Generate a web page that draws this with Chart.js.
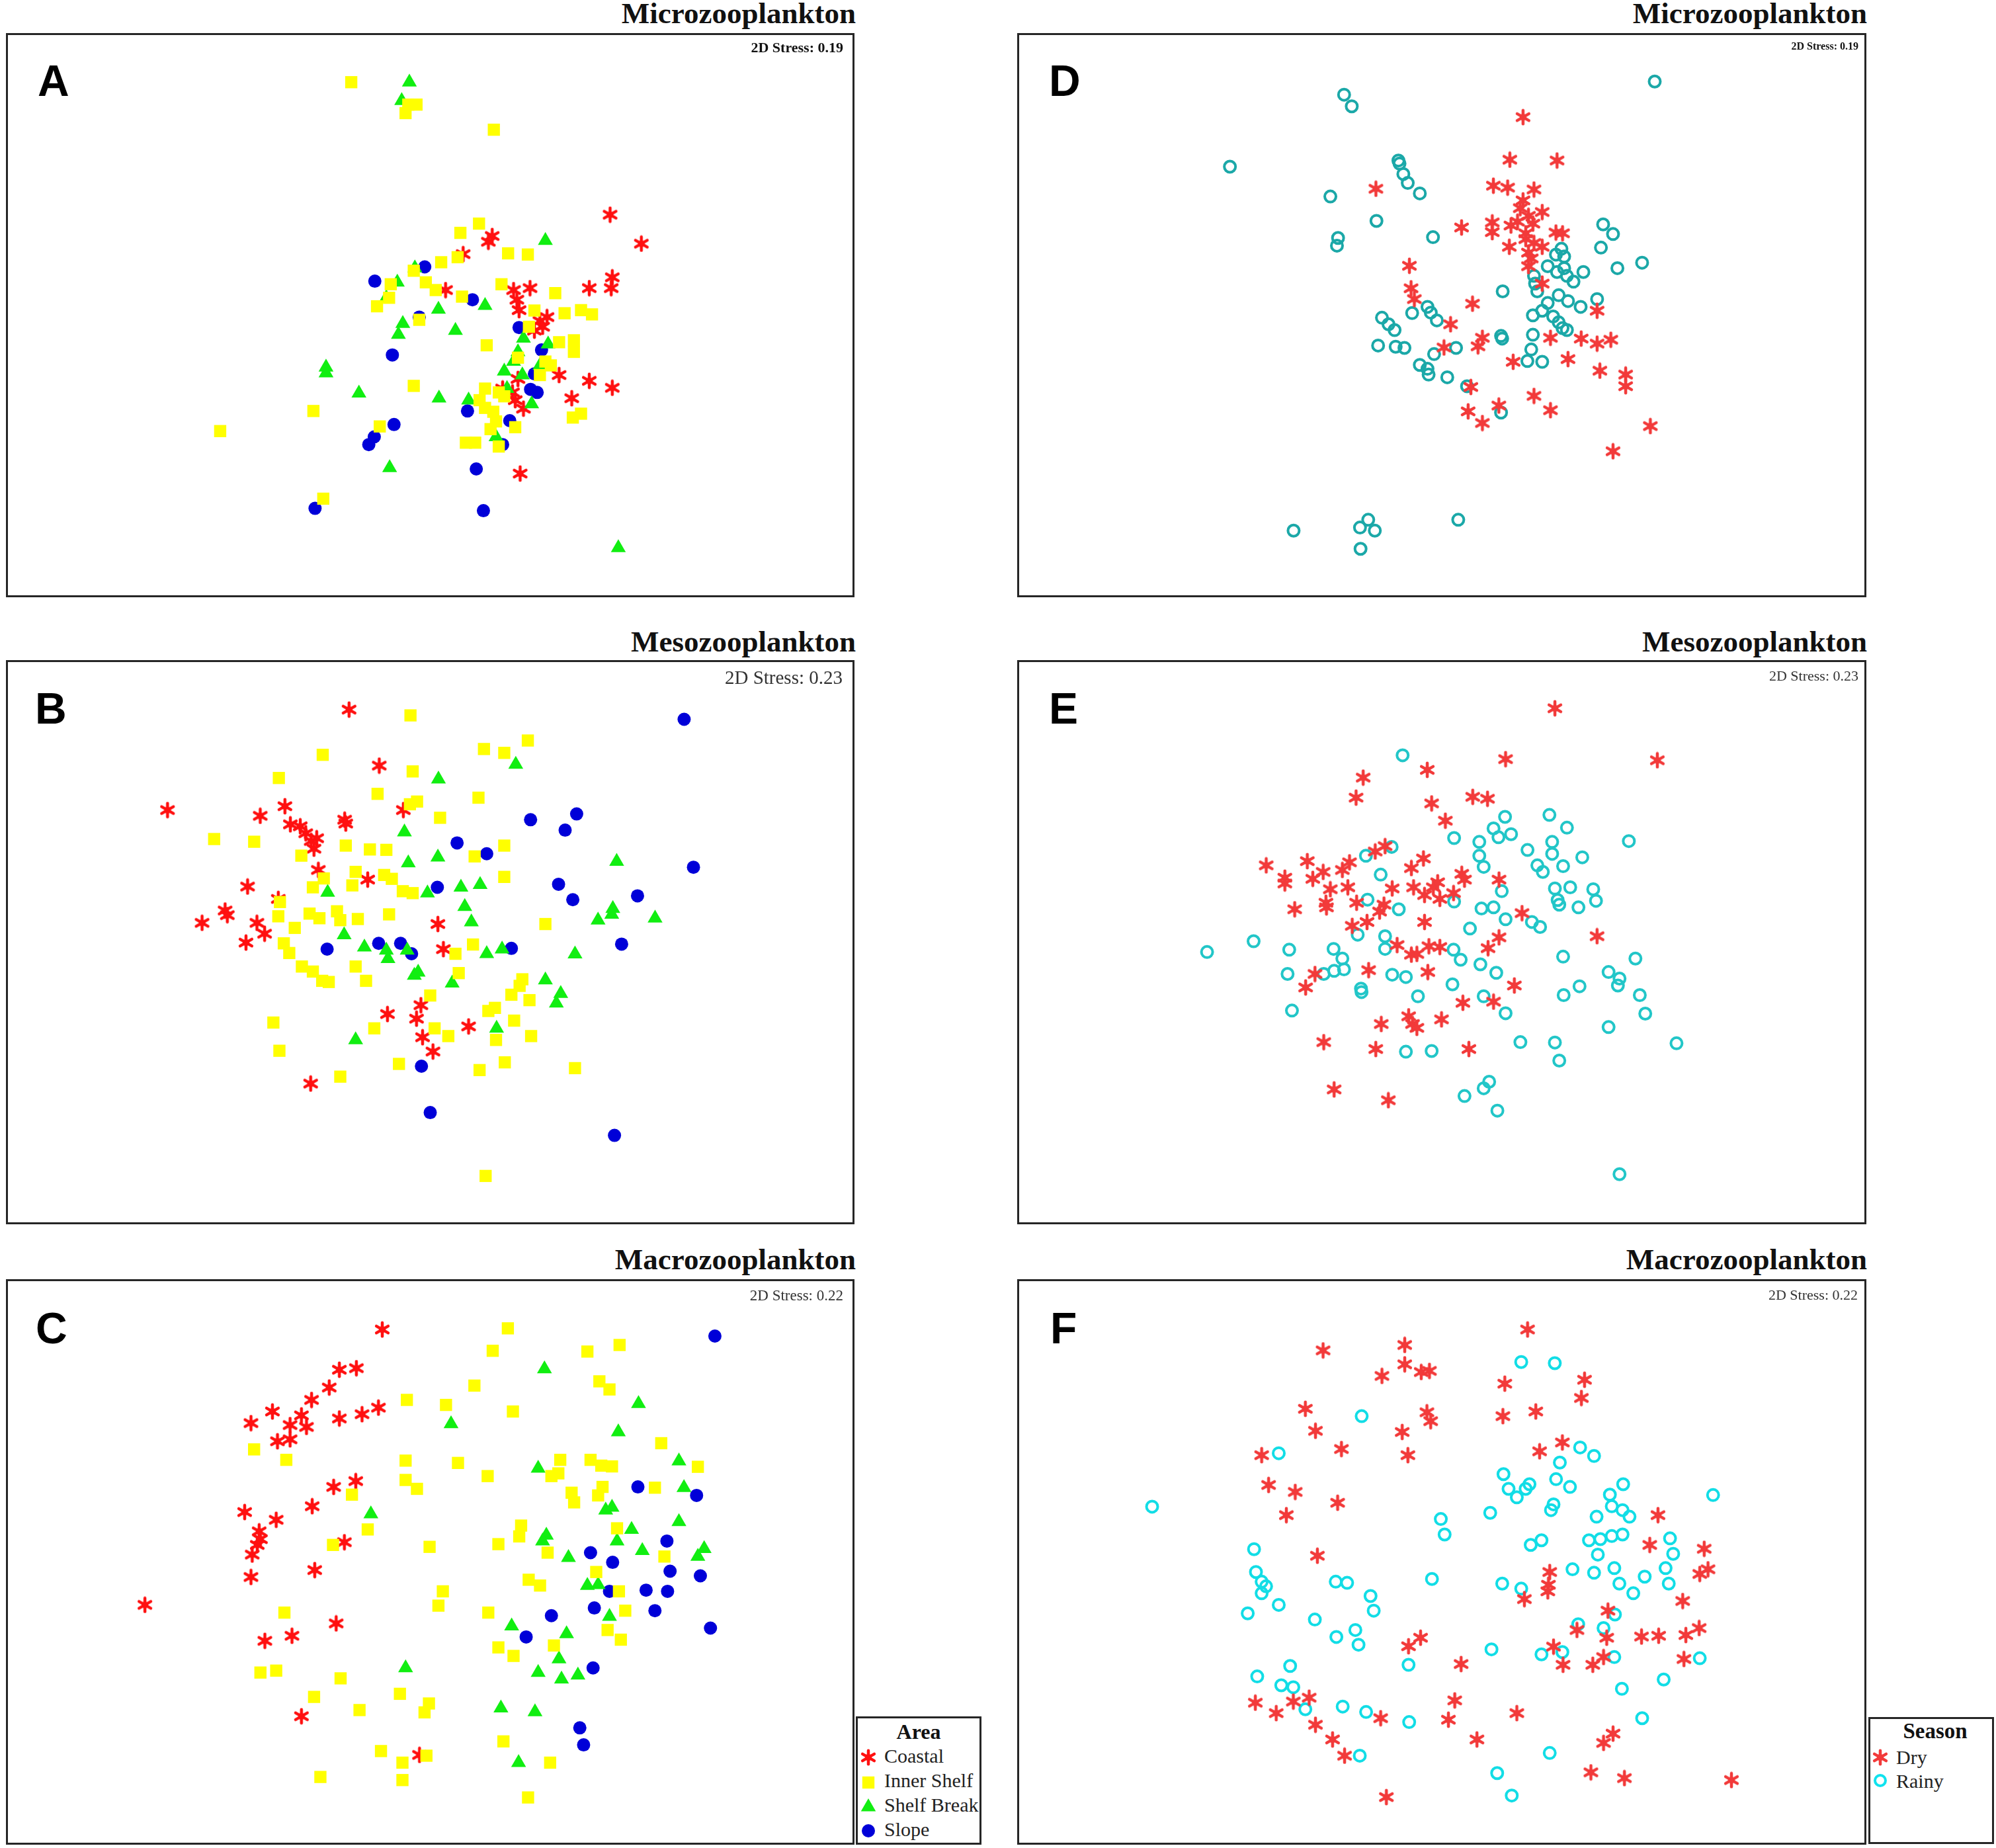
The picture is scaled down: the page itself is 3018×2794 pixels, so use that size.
<!DOCTYPE html>
<html>
<head>
<meta charset="utf-8">
<script src="https://cdn.jsdelivr.net/npm/chart.js@4.4.1/dist/chart.umd.min.js"></script>
<style>
html,body{margin:0;padding:0;background:#fff;}
body{position:relative;width:3018px;height:2794px;overflow:hidden;font-family:"Liberation Serif","Times New Roman",serif;color:#111;}
.box{position:absolute;border:3px solid #262626;box-sizing:border-box;background:#fff;overflow:hidden;}
.box canvas{position:absolute;left:0;top:0;}
.title{position:absolute;font-weight:bold;font-size:45px;line-height:normal;white-space:nowrap;text-align:right;color:#111;}
.letter{position:absolute;font-family:"Liberation Sans",Arial,sans-serif;font-weight:bold;font-size:66px;line-height:normal;color:#000;}
.stress{position:absolute;line-height:normal;white-space:nowrap;text-align:right;color:#333;}
.lg{position:absolute;border:3px solid #262626;box-sizing:border-box;background:#fff;overflow:hidden;}
.lgt{position:absolute;font-weight:bold;line-height:normal;white-space:nowrap;color:#111;}
.lge{position:absolute;font-size:30px;line-height:normal;white-space:nowrap;color:#222;}
.lgs{position:absolute;width:30px;height:30px;}
</style>
</head>
<body>

<div class="title" style="right:1724px;top:-6px;">Microzooplankton</div>
<div class="title" style="right:195px;top:-6px;">Microzooplankton</div>
<div class="title" style="right:1724px;top:944px;">Mesozooplankton</div>
<div class="title" style="right:195px;top:944px;">Mesozooplankton</div>
<div class="title" style="right:1724px;top:1878px;">Macrozooplankton</div>
<div class="title" style="right:195px;top:1878px;">Macrozooplankton</div>

<div class="box" id="boxA" style="left:9px;top:50px;width:1283px;height:853px;"><canvas id="cA"></canvas></div>
<div class="box" id="boxD" style="left:1538px;top:50px;width:1284px;height:853px;"><canvas id="cD"></canvas></div>
<div class="box" id="boxB" style="left:9px;top:998px;width:1283px;height:853px;"><canvas id="cB"></canvas></div>
<div class="box" id="boxE" style="left:1538px;top:998px;width:1284px;height:853px;"><canvas id="cE"></canvas></div>
<div class="box" id="boxC" style="left:9px;top:1934px;width:1283px;height:855px;"><canvas id="cC"></canvas></div>
<div class="box" id="boxF" style="left:1538px;top:1934px;width:1284px;height:855px;"><canvas id="cF"></canvas></div>

<div class="letter" style="left:57px;top:84px;">A</div>
<div class="letter" style="left:1586px;top:84px;">D</div>
<div class="letter" style="left:53px;top:1033px;">B</div>
<div class="letter" style="left:1586px;top:1033px;">E</div>
<div class="letter" style="left:54px;top:1970px;">C</div>
<div class="letter" style="left:1588px;top:1970px;">F</div>

<div class="stress" style="right:1743px;top:59px;font-size:22px;font-weight:bold;color:#111;">2D Stress: 0.19</div>
<div class="stress" style="right:208px;top:61px;font-size:16px;font-weight:bold;color:#111;">2D Stress: 0.19</div>
<div class="stress" style="right:1744px;top:1008px;font-size:29px;">2D Stress: 0.23</div>
<div class="stress" style="right:208px;top:1009px;font-size:22px;">2D Stress: 0.23</div>
<div class="stress" style="right:1743px;top:1946px;font-size:23px;">2D Stress: 0.22</div>
<div class="stress" style="right:209px;top:1945px;font-size:22px;">2D Stress: 0.22</div>

<div class="lg" style="left:1294px;top:2595px;width:190px;height:194px;">
  <div class="lgt" style="left:0;width:184px;text-align:center;top:2px;font-size:32px;">Area</div>
  <canvas class="lgs" id="lgA0" width="30" height="30" style="left:1px;top:44px;"></canvas>
  <div class="lge" style="left:40px;top:40px;">Coastal</div>
  <canvas class="lgs" id="lgA1" width="30" height="30" style="left:1px;top:82px;"></canvas>
  <div class="lge" style="left:40px;top:77px;">Inner Shelf</div>
  <canvas class="lgs" id="lgA2" width="30" height="30" style="left:1px;top:119px;"></canvas>
  <div class="lge" style="left:40px;top:114px;">Shelf Break</div>
  <canvas class="lgs" id="lgA3" width="30" height="30" style="left:1px;top:155px;"></canvas>
  <div class="lge" style="left:40px;top:151px;">Slope</div>
</div>

<div class="lg" style="left:2825px;top:2596px;width:190px;height:192px;">
  <div class="lgt" style="left:6px;width:184px;text-align:center;top:0px;font-size:33px;">Season</div>
  <canvas class="lgs" id="lgS0" width="30" height="30" style="left:0px;top:43px;"></canvas>
  <div class="lge" style="left:39px;top:41px;">Dry</div>
  <canvas class="lgs" id="lgS1" width="30" height="30" style="left:0px;top:78px;"></canvas>
  <div class="lge" style="left:39px;top:77px;">Rainy</div>
</div>

<script>
// ---------------- DATA (NMDS ordination coordinates) ----------------
const areaLabels = ['Coastal', 'Inner Shelf', 'Shelf Break', 'Slope'];
const seasonLabels = ['Dry', 'Rainy'];

// Panel A - Microzooplankton by area
const A_coastal = [[3.28,2.60],[1.13,2.05],[1.06,1.90],[3.85,1.85],[0.60,1.58],[3.32,0.98],[3.30,0.70],[2.90,0.70],[0.28,0.65],[1.52,0.65],[1.82,0.70],[1.58,0.40],[1.62,0.13],[2.13,-0.05],[2.00,-0.15],[2.05,-0.30],[1.90,-0.40],[2.35,-1.55],[2.90,-1.70],[3.32,-1.88],[1.60,-1.65],[1.50,-2.00],[1.55,-2.20],[2.58,-2.15],[1.70,-2.42],[1.64,-4.10],[1.32,-1.90]];
const A_inner = [[-1.44,6.03],[-0.40,5.45],[-0.25,5.45],[-0.45,5.23],[1.16,4.80],[0.89,2.37],[0.55,2.13],[1.42,1.60],[1.78,1.57],[0.20,1.37],[0.50,1.50],[-0.30,1.15],[-0.72,0.80],[-0.08,0.85],[0.10,0.65],[1.30,0.80],[2.28,0.57],[0.58,0.48],[-0.97,0.23],[-0.75,0.45],[1.90,0.12],[2.45,0.05],[2.75,0.13],[2.95,0.02],[-0.20,-0.12],[1.80,-0.30],[2.35,-0.70],[2.62,-0.65],[2.62,-0.95],[1.03,-0.78],[1.60,-1.10],[2.10,-1.20],[2.20,-1.30],[2.00,-1.55],[-0.30,-1.83],[1.00,-1.90],[1.25,-2.00],[1.35,-2.10],[-2.13,-2.48],[1.00,-2.40],[1.15,-2.50],[1.20,-2.75],[1.10,-2.95],[2.60,-2.65],[2.75,-2.55],[1.55,-2.90],[-0.92,-2.88],[-3.83,-3.00],[0.65,-3.30],[0.82,-3.30],[1.25,-3.40],[-1.95,-4.75],[0.90,-2.20]];
const A_break = [[-0.38,6.03],[-0.52,5.55],[2.10,1.93],[-0.28,1.22],[-0.60,0.85],[-0.80,0.45],[1.00,0.25],[0.15,0.15],[-0.50,-0.22],[-0.58,-0.50],[0.46,-0.40],[1.70,-0.60],[2.15,-0.75],[1.60,-0.95],[1.52,-1.20],[2.00,-1.30],[1.35,-1.45],[1.68,-1.55],[-1.90,-1.35],[-1.90,-1.50],[-1.30,-2.02],[0.16,-2.15],[0.70,-2.20],[1.85,-2.30],[1.20,-3.15],[-0.74,-3.95],[3.43,-6.02],[1.40,-1.90]];
const A_slope = [[-0.10,1.25],[-1.01,0.88],[0.77,0.40],[-0.20,-0.05],[1.62,-0.32],[-0.69,-1.03],[2.03,-0.90],[1.90,-1.52],[1.83,-1.92],[1.95,-2.00],[0.68,-2.48],[1.45,-2.73],[-0.66,-2.83],[-1.02,-3.15],[-1.12,-3.35],[1.32,-3.35],[0.84,-3.98],[-2.10,-5.00],[0.97,-5.06]];

// Panel B - Mesozooplankton by area
const B_coastal = [[-1.48,6.02],[-0.93,4.57],[-0.49,3.42],[-4.79,3.42],[-2.65,3.52],[-3.10,3.27],[-2.55,3.05],[-2.37,3.00],[-2.27,2.82],[-2.07,2.69],[-2.17,2.62],[-2.12,2.42],[-1.56,3.17],[-1.54,3.07],[-2.04,1.87],[-1.14,1.62],[-3.33,1.44],[-2.77,1.12],[-3.74,0.82],[-3.70,0.70],[-4.16,0.50],[-3.16,0.50],[-3.02,0.22],[-3.36,-0.01],[0.14,0.47],[0.24,-0.18],[-0.17,-1.63],[-0.25,-1.98],[-0.78,-1.86],[-0.14,-2.46],[0.70,-2.18],[0.05,-2.83],[-2.18,-3.66]];
const B_inner = [[-0.36,5.87],[1.78,5.22],[0.98,5.00],[1.35,4.90],[-1.96,4.85],[-0.32,4.42],[-2.76,4.25],[-0.96,3.84],[0.88,3.74],[-0.37,3.57],[-0.24,3.64],[0.18,3.22],[-3.94,2.67],[-3.21,2.60],[-1.54,2.50],[-1.10,2.40],[-0.80,2.39],[-2.35,2.24],[0.81,2.22],[1.35,2.50],[-1.36,1.82],[-0.84,1.74],[-0.70,1.64],[-1.94,1.65],[-2.14,1.42],[-1.42,1.47],[-0.50,1.32],[-0.32,1.27],[1.35,1.69],[-2.74,1.04],[-2.77,0.67],[-2.20,0.74],[-2.02,0.62],[-1.70,0.80],[-1.64,0.57],[-1.32,0.60],[-0.75,0.72],[-2.47,0.37],[2.10,0.47],[-2.67,-0.03],[-2.57,-0.28],[0.78,-0.06],[0.46,-0.30],[-2.34,-0.63],[-2.14,-0.76],[-1.97,-1.00],[-1.85,-1.03],[-1.36,-0.63],[-1.17,-1.00],[0.52,-0.80],[1.68,-0.96],[1.63,-1.13],[0.00,-1.38],[1.48,-1.36],[1.81,-1.50],[1.06,-1.78],[1.18,-1.70],[1.53,-2.03],[1.84,-2.43],[-1.02,-2.23],[0.08,-2.23],[0.33,-2.43],[1.20,-2.53],[-2.86,-2.08],[-2.75,-2.81],[-0.57,-3.15],[-1.64,-3.48],[0.90,-3.31],[1.36,-3.11],[2.64,-3.26],[1.01,-6.05]];
const B_break = [[1.56,4.60],[0.15,4.22],[-0.47,2.85],[-0.40,2.05],[0.14,2.20],[3.40,2.09],[-1.87,1.29],[-0.05,1.27],[0.56,1.42],[0.91,1.49],[0.63,0.92],[0.75,0.52],[3.33,0.87],[3.31,0.72],[3.06,0.57],[4.10,0.62],[-1.57,0.19],[-1.20,-0.13],[-0.80,-0.21],[-0.77,-0.43],[-0.42,-0.21],[1.03,-0.30],[1.31,-0.18],[2.64,-0.31],[-0.29,-0.86],[-0.22,-0.78],[0.40,-1.06],[2.10,-0.98],[2.38,-1.33],[2.30,-1.58],[1.21,-2.23],[-1.36,-2.53]];
const B_slope = [[4.63,5.77],[1.83,3.17],[2.67,3.32],[2.46,2.90],[0.49,2.57],[1.03,2.29],[4.80,1.94],[2.34,1.50],[0.13,1.42],[2.60,1.10],[3.78,1.20],[-1.88,-0.18],[-0.94,-0.03],[-0.54,-0.03],[-0.34,-0.30],[1.48,-0.16],[3.49,-0.05],[-0.16,-3.21],[0.00,-4.41],[3.36,-5.00]];

// Panel C - Macrozooplankton by area
const C_coastal = [[-0.76,6.01],[-1.44,4.97],[-1.17,5.01],[-1.60,4.51],[-1.88,4.19],[-0.82,3.99],[-1.08,3.82],[-1.44,3.71],[-2.50,3.89],[-2.04,3.79],[-2.84,3.59],[-2.22,3.54],[-1.96,3.49],[-2.42,3.12],[-2.22,3.17],[-1.18,2.09],[-1.53,1.94],[-1.87,1.44],[-2.94,1.29],[-2.44,1.09],[-2.71,0.79],[-2.69,0.59],[-2.74,0.44],[-2.82,0.19],[-2.84,-0.39],[-1.36,0.51],[-1.83,-0.21],[-4.52,-1.11],[-1.49,-1.59],[-2.19,-1.91],[-2.62,-2.04],[-2.04,-3.99],[-0.17,-4.99]];
const C_inner = [[1.23,6.04],[0.99,5.46],[2.49,5.44],[3.00,5.61],[0.70,4.56],[2.68,4.67],[2.84,4.46],[-0.37,4.19],[0.25,4.06],[1.31,3.89],[3.66,3.07],[-2.79,2.91],[-2.28,2.64],[-0.39,2.62],[0.44,2.56],[0.91,2.22],[2.06,2.64],[2.54,2.64],[2.71,2.49],[2.88,2.47],[4.24,2.46],[1.92,2.22],[2.03,2.29],[-0.39,2.12],[-0.21,1.89],[-1.24,1.74],[3.56,1.92],[2.73,1.94],[2.66,1.72],[2.24,1.79],[2.28,1.54],[1.44,0.94],[1.41,0.66],[2.96,0.87],[-0.99,0.84],[-1.54,0.44],[-0.01,0.39],[1.08,0.46],[1.86,0.24],[3.71,0.14],[2.63,-0.26],[1.56,-0.46],[1.74,-0.61],[2.99,-0.76],[0.20,-0.76],[0.13,-1.13],[0.92,-1.31],[3.09,-1.26],[2.81,-1.76],[3.02,-2.01],[1.96,-2.16],[1.08,-2.21],[1.32,-2.43],[-2.31,-1.31],[-2.69,-2.86],[-2.44,-2.81],[-1.42,-3.01],[-1.84,-3.49],[-0.48,-3.41],[-0.02,-3.66],[-0.09,-3.89],[-1.12,-3.83],[1.16,-4.64],[-0.78,-4.89],[-0.44,-5.19],[-0.06,-5.01],[1.90,-5.19],[-1.74,-5.56],[-0.44,-5.64],[1.55,-6.09]];
const C_break = [[1.81,4.99],[3.30,4.09],[0.33,3.57],[2.98,3.36],[3.94,2.61],[1.71,2.42],[4.02,1.92],[-0.94,1.24],[2.78,1.34],[2.88,1.41],[3.94,1.04],[3.19,0.84],[1.84,0.69],[1.78,0.54],[2.96,0.54],[3.36,0.29],[2.19,0.11],[4.34,0.34],[4.24,0.14],[2.49,-0.61],[2.66,-0.59],[2.84,-1.41],[1.29,-1.66],[2.16,-1.86],[2.04,-2.51],[1.71,-2.86],[2.08,-3.03],[2.34,-2.93],[-0.39,-2.74],[1.12,-3.78],[1.66,-3.88],[1.40,-5.19]];
const C_slope = [[4.51,5.84],[3.29,1.94],[4.22,1.72],[3.75,0.54],[2.54,0.24],[2.89,-0.01],[3.80,-0.24],[4.28,-0.36],[2.84,-0.76],[3.42,-0.73],[3.76,-0.76],[2.60,-1.19],[3.56,-1.26],[1.92,-1.39],[4.44,-1.71],[1.52,-1.94],[2.58,-2.74],[2.37,-4.29],[2.43,-4.73]];

// Panel D - Microzooplankton by season
const D_dry = [[1.48,5.11],[1.24,4.01],[2.10,3.99],[-1.20,3.26],[0.94,3.34],[1.20,3.29],[1.68,3.24],[1.48,2.96],[1.43,2.76],[1.83,2.66],[1.58,2.56],[1.38,2.41],[1.66,2.36],[0.36,2.26],[0.92,2.39],[0.92,2.14],[1.26,2.31],[1.53,2.11],[2.08,2.13],[2.20,2.11],[1.23,1.76],[1.53,1.96],[1.68,1.86],[1.83,1.76],[1.58,1.61],[1.63,1.46],[1.58,1.26],[-0.59,1.27],[-0.56,0.69],[-0.50,0.41],[0.56,0.29],[0.16,-0.24],[2.83,0.11],[1.83,0.81],[0.74,-0.59],[0.66,-0.81],[0.04,-0.84],[1.98,-0.59],[2.54,-0.61],[2.83,-0.74],[3.08,-0.64],[1.30,-1.21],[2.30,-1.14],[2.88,-1.44],[3.35,-1.54],[3.35,-1.84],[0.53,-1.86],[0.48,-2.49],[1.04,-2.34],[1.68,-2.09],[1.98,-2.46],[0.74,-2.79],[3.80,-2.87],[3.12,-3.52]];
const D_rainy = [[3.88,6.03],[-1.78,5.69],[-1.64,5.39],[-3.86,3.83],[-0.79,3.99],[-0.77,3.91],[-0.70,3.64],[-0.62,3.41],[-0.40,3.14],[-2.03,3.06],[-1.19,2.43],[-1.89,1.99],[-1.91,1.79],[-0.16,2.01],[2.94,2.34],[3.12,2.09],[2.90,1.74],[3.65,1.35],[3.20,1.21],[2.58,1.11],[2.18,1.71],[2.23,1.51],[2.08,1.56],[1.93,1.26],[2.10,1.11],[2.28,1.01],[2.40,0.86],[2.23,1.21],[1.68,1.01],[1.70,0.81],[1.74,0.61],[1.11,0.61],[2.83,0.41],[2.53,0.21],[2.13,0.51],[2.30,0.36],[1.93,0.31],[1.83,0.11],[1.66,-0.01],[2.03,-0.04],[2.13,-0.19],[2.20,-0.34],[2.28,-0.39],[-1.09,-0.07],[-0.97,-0.24],[-0.86,-0.39],[-0.54,0.05],[-0.26,0.21],[-0.20,0.06],[-0.09,-0.14],[-1.16,-0.79],[-0.84,-0.82],[-0.68,-0.85],[0.26,-0.85],[-0.14,-1.01],[1.08,-0.54],[1.10,-0.61],[1.66,-0.51],[1.63,-0.89],[1.56,-1.19],[1.83,-1.21],[-0.40,-1.29],[-0.26,-1.39],[-0.24,-1.54],[0.10,-1.61],[0.46,-1.84],[1.08,-2.52],[-2.70,-5.57],[-1.49,-5.49],[-1.34,-5.29],[-1.22,-5.57],[-1.48,-6.04],[0.30,-5.29]];

// Panel E - Mesozooplankton by season
const E_dry = [[2.07,6.07],[1.17,4.75],[3.94,4.72],[-0.26,4.47],[-1.43,4.27],[-1.56,3.75],[-0.18,3.60],[0.57,3.77],[0.84,3.72],[0.07,3.15],[-1.03,2.49],[-1.21,2.35],[-3.20,1.99],[-2.45,2.10],[-2.16,1.82],[-1.81,1.87],[-1.68,2.07],[-2.86,1.67],[-2.86,1.52],[-2.35,1.64],[-2.03,1.37],[-1.71,1.42],[-0.55,1.92],[-0.33,2.17],[0.37,1.77],[0.42,1.62],[1.05,1.62],[-0.90,1.39],[-0.51,1.42],[-0.15,1.42],[-0.07,1.55],[-0.31,1.22],[-0.03,1.12],[0.22,1.27],[-2.11,1.02],[-2.10,0.90],[-2.68,0.85],[-1.55,1.02],[-1.05,0.97],[-1.13,0.79],[-1.63,0.42],[-1.36,0.52],[-0.31,0.52],[1.47,0.75],[1.05,0.12],[0.85,-0.16],[-0.81,-0.08],[-0.55,-0.33],[-0.23,-0.11],[-0.03,-0.13],[-0.45,-0.31],[-2.31,-0.83],[-1.33,-0.73],[-0.25,-0.78],[-2.48,-1.18],[1.33,-1.13],[0.39,-1.58],[0.95,-1.55],[-0.60,-1.93],[-0.53,-2.13],[-0.45,-2.23],[-1.10,-2.13],[0.00,-2.01],[-2.15,-2.60],[-1.20,-2.78],[0.50,-2.78],[2.84,0.15],[-1.96,-3.83],[-0.97,-4.11]];
const E_rainy = [[-0.71,4.85],[1.16,3.25],[1.97,3.30],[2.29,2.97],[0.95,2.95],[1.27,2.80],[1.04,2.72],[0.23,2.70],[0.69,2.60],[2.02,2.60],[3.42,2.62],[-0.91,2.47],[1.57,2.39],[2.02,2.29],[0.69,2.24],[2.57,2.20],[-1.38,2.24],[0.77,1.95],[1.75,1.99],[1.85,1.82],[2.22,1.97],[-1.11,1.75],[2.07,1.39],[2.35,1.42],[2.77,1.37],[1.10,1.32],[2.12,1.09],[2.15,0.97],[2.82,1.07],[2.50,0.90],[-1.35,1.10],[-0.78,0.85],[0.23,1.05],[0.73,0.87],[0.95,0.90],[1.17,0.59],[1.65,0.52],[1.80,0.39],[0.52,0.35],[-1.53,0.19],[-1.03,0.15],[-1.03,-0.18],[-3.43,0.02],[-4.28,-0.26],[-2.78,-0.20],[-1.97,-0.18],[-1.81,-0.43],[-1.78,-0.71],[-1.96,-0.75],[-2.15,-0.83],[-2.81,-0.83],[-0.90,-0.85],[-0.65,-0.91],[0.22,-0.20],[0.35,-0.46],[0.71,-0.58],[1.00,-0.80],[0.20,-1.10],[-1.47,-1.21],[-1.46,-1.30],[-0.43,-1.41],[0.77,-1.41],[2.22,-0.38],[3.54,-0.43],[3.05,-0.78],[3.25,-0.95],[3.22,-1.13],[2.52,-1.15],[2.23,-1.38],[3.62,-1.38],[3.72,-1.86],[1.17,-1.85],[-2.73,-1.78],[3.05,-2.21],[1.44,-2.60],[2.07,-2.61],[4.29,-2.63],[2.15,-3.08],[-0.65,-2.85],[-0.18,-2.83],[0.87,-3.63],[0.77,-3.80],[0.42,-4.00],[1.02,-4.38],[3.25,-6.03]];

// Panel F - Macrozooplankton by season
const F_dry = [[1.35,6.01],[-1.88,5.47],[-0.59,5.61],[-0.59,5.11],[-0.95,4.81],[-0.33,4.91],[-0.20,4.94],[0.99,4.61],[2.25,4.71],[2.20,4.24],[-2.16,3.96],[-0.24,3.87],[-0.18,3.64],[0.96,3.77],[1.48,3.89],[-2.00,3.39],[-0.63,3.36],[-1.59,2.92],[-0.54,2.76],[-2.85,2.76],[1.90,3.09],[1.54,2.86],[-2.74,1.99],[-2.32,1.81],[-1.65,1.53],[-2.46,1.21],[3.41,1.21],[3.28,0.44],[4.14,0.34],[4.07,-0.31],[4.20,-0.19],[-1.97,0.16],[1.70,-0.26],[1.68,-0.59],[1.67,-0.76],[1.30,-0.96],[3.80,-1.01],[2.62,-1.26],[4.06,-1.71],[3.85,-1.89],[3.42,-1.91],[3.15,-1.93],[2.60,-1.96],[2.13,-1.76],[-0.34,-1.96],[-0.53,-2.18],[1.76,-2.19],[2.55,-2.46],[2.38,-2.66],[1.91,-2.66],[0.30,-2.64],[3.82,-2.51],[0.20,-3.58],[-2.10,-3.51],[-2.35,-3.61],[-2.95,-3.64],[-2.62,-3.91],[-2.00,-4.21],[-0.97,-4.04],[0.10,-4.08],[1.18,-3.91],[-1.73,-4.59],[-1.54,-5.01],[0.55,-4.59],[2.70,-4.44],[2.55,-4.68],[2.35,-5.44],[2.88,-5.59],[4.57,-5.64],[-0.88,-6.08]];
const F_rainy = [[1.25,5.17],[1.78,5.14],[-1.27,3.77],[-2.58,2.81],[2.18,2.96],[2.40,2.74],[1.86,2.57],[0.97,2.27],[1.80,2.14],[2.02,1.94],[1.05,1.89],[1.18,1.67],[1.32,1.89],[1.38,2.01],[2.86,2.01],[2.65,1.74],[2.68,1.44],[2.85,1.34],[2.96,1.17],[2.44,1.17],[1.76,1.49],[1.72,1.34],[4.28,1.73],[-4.58,1.43],[-0.02,1.11],[0.04,0.71],[0.76,1.27],[1.40,0.44],[1.57,0.56],[2.32,0.56],[2.50,0.59],[2.68,0.67],[2.85,0.71],[3.60,0.61],[3.65,0.21],[2.46,0.19],[3.53,-0.16],[3.58,-0.56],[-2.97,0.33],[-2.94,-0.26],[-2.85,-0.51],[-2.78,-0.63],[-2.85,-0.81],[-2.58,-1.11],[-3.07,-1.33],[-1.68,-0.51],[-1.50,-0.54],[-1.13,-0.88],[-1.08,-1.26],[-0.16,-0.44],[0.95,-0.56],[1.25,-0.69],[2.06,-0.19],[2.40,-0.28],[2.72,-0.16],[2.80,-0.56],[3.02,-0.81],[3.20,-0.38],[-2.01,-1.49],[-1.67,-1.94],[-1.37,-1.76],[-1.32,-2.14],[0.78,-2.26],[1.57,-2.39],[1.90,-2.33],[2.72,-2.46],[2.15,-1.61],[2.55,-1.71],[2.73,-1.36],[-0.53,-2.66],[-2.40,-2.69],[-2.92,-2.96],[-2.54,-3.19],[-2.35,-3.24],[-2.16,-3.81],[-1.57,-3.74],[-1.20,-3.88],[-0.52,-4.14],[2.84,-3.28],[3.50,-3.04],[4.07,-2.49],[3.16,-4.04],[1.70,-4.94],[-1.30,-5.01],[0.87,-5.46],[1.10,-6.04]];

// Axis extents of each ordination panel (NMDS1 / NMDS2)
const A_xRange = [-7.70, 7.70], A_yRange = [-7.25, 7.25];
const B_xRange = [-7.70, 7.70], B_yRange = [-7.25, 7.25];
const C_xRange = [-6.69, 6.69], C_yRange = [-7.26, 7.26];
const D_xRange = [-7.70, 7.70], D_yRange = [-7.24, 7.23];
const E_xRange = [-7.71, 7.72], E_yRange = [-7.28, 7.27];
const F_xRange = [-6.68, 6.67], F_yRange = [-7.26, 7.26];

// ---------------- STYLES ----------------
// 6-armed asterisk marker (PRIMER style) built as a canvas point style
function asterisk(color, size, lw) {
  const c = document.createElement('canvas');
  c.width = size; c.height = size;
  const ctx = c.getContext('2d');
  const m = size / 2, L = size / 2 - lw / 2 - 0.5;
  ctx.strokeStyle = color; ctx.fillStyle = color;
  ctx.lineWidth = lw; ctx.lineCap = 'round';
  for (let k = 0; k < 3; k++) {
    const a = Math.PI / 2 + k * Math.PI / 3;
    ctx.beginPath();
    ctx.moveTo(m + Math.cos(a) * L, m - Math.sin(a) * L);
    ctx.lineTo(m - Math.cos(a) * L, m + Math.sin(a) * L);
    ctx.stroke();
  }
  ctx.beginPath(); ctx.arc(m, m, size * 0.2, 0, Math.PI * 2); ctx.fill();
  return c;
}
const starCoastal = asterisk('#ff1010', 26, 4.5);
const starDry = asterisk('#f23a3a', 26, 4.5);

const ST = {
  coastal: {style: starCoastal, r:13, fill:'#ff1010', stroke:'#ff1010', bw:0},
  inner:   {style:'rect', r:13, fill:'#ffff00', stroke:'#ffff00', bw:0},
  brk:     {style:'triangle', r:13, fill:'#11ee11', stroke:'#11ee11', bw:0},
  slope:   {style:'circle', r:10, fill:'#0000d8', stroke:'#0000d8', bw:0},
  dry:     {style: starDry, r:13, fill:'#f23a3a', stroke:'#f23a3a', bw:0},
  rainyD:  {style:'circle', r:8.5, fill:'rgba(0,0,0,0)', stroke:'#1ba8a8', bw:4},
  rainyE:  {style:'circle', r:8.5, fill:'rgba(0,0,0,0)', stroke:'#22c6c8', bw:4},
  rainyF:  {style:'circle', r:8.5, fill:'rgba(0,0,0,0)', stroke:'#12dde6', bw:4}
};

function ds(label, pts, s) {
  return {
    label: label,
    data: pts.map(p => ({x: p[0], y: p[1]})),
    pointStyle: s.style,
    pointRadius: s.r,
    pointHoverRadius: s.r,
    pointBackgroundColor: s.fill,
    pointBorderColor: s.stroke,
    pointBorderWidth: s.bw,
    pointHoverBorderWidth: s.bw,
    showLine: false
  };
}

function makeChart(canvasId, boxId, xr, yr, datasets) {
  const box = document.getElementById(boxId);
  const cv = document.getElementById(canvasId);
  const w = box.clientWidth, h = box.clientHeight;
  cv.width = w; cv.height = h;
  cv.style.width = w + 'px'; cv.style.height = h + 'px';
  new Chart(cv, {
    type: 'scatter',
    data: {datasets: datasets},
    options: {
      responsive: false,
      animation: false,
      devicePixelRatio: 1,
      events: [],
      layout: {padding: 0, autoPadding: false},
      plugins: {legend: {display: false}, tooltip: {enabled: false}, title: {display: false}},
      scales: {
        x: {type: 'linear', min: xr[0], max: xr[1], display: false},
        y: {type: 'linear', min: yr[0], max: yr[1], display: false}
      }
    }
  });
}

function areaSets(co, inn, br, sl) {
  return [
    ds(areaLabels[1], inn, ST.inner),
    ds(areaLabels[2], br, ST.brk),
    ds(areaLabels[3], sl, ST.slope),
    ds(areaLabels[0], co, ST.coastal)
  ];
}
function seasonSets(dry, rainy, rs) {
  return [ds(seasonLabels[0], dry, ST.dry), ds(seasonLabels[1], rainy, rs)];
}

makeChart('cA', 'boxA', A_xRange, A_yRange, areaSets(A_coastal, A_inner, A_break, A_slope));
makeChart('cB', 'boxB', B_xRange, B_yRange, areaSets(B_coastal, B_inner, B_break, B_slope));
makeChart('cC', 'boxC', C_xRange, C_yRange, areaSets(C_coastal, C_inner, C_break, C_slope));
makeChart('cD', 'boxD', D_xRange, D_yRange, seasonSets(D_dry, D_rainy, ST.rainyD));
makeChart('cE', 'boxE', E_xRange, E_yRange, seasonSets(E_dry, E_rainy, ST.rainyE));
makeChart('cF', 'boxF', F_xRange, F_yRange, seasonSets(F_dry, F_rainy, ST.rainyF));

// ---------------- LEGEND SYMBOLS ----------------
function symbol(id, s) {
  const c = document.getElementById(id);
  const ctx = c.getContext('2d');
  if (s.style instanceof HTMLCanvasElement) {
    ctx.drawImage(s.style, 15 - s.style.width / 2, 15 - s.style.height / 2);
    return;
  }
  ctx.fillStyle = s.fill; ctx.strokeStyle = s.stroke; ctx.lineWidth = s.bw;
  const opts = {pointStyle: s.style, radius: s.r, rotation: 0, borderWidth: s.bw};
  if (Chart.helpers && Chart.helpers.drawPoint) {
    Chart.helpers.drawPoint(ctx, opts, 15, 15);
  } else {
    ctx.beginPath();
    ctx.arc(15, 15, s.r, 0, Math.PI * 2);
    ctx.fill(); if (s.bw > 0) ctx.stroke();
  }
}
symbol('lgA0', ST.coastal);
symbol('lgA1', ST.inner);
symbol('lgA2', ST.brk);
symbol('lgA3', ST.slope);
symbol('lgS0', ST.dry);
symbol('lgS1', {style:'circle', r:8, fill:'rgba(0,0,0,0)', stroke:'#10e2ee', bw:4});
</script>
</body>
</html>
